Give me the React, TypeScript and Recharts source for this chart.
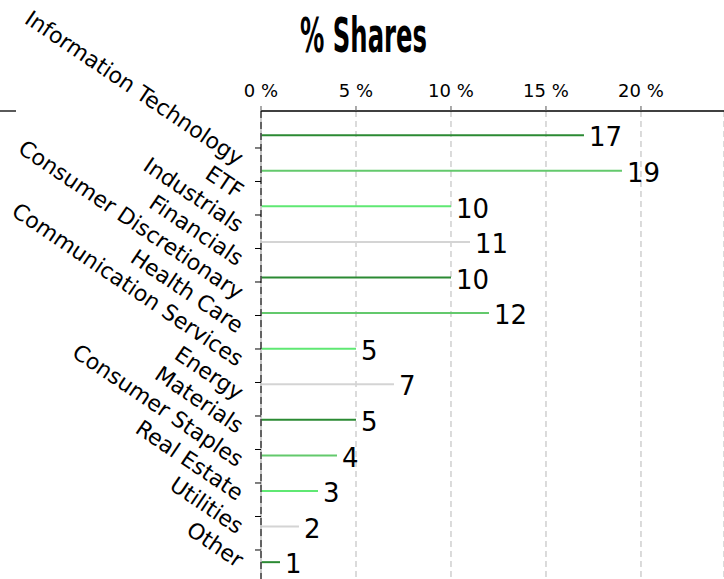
import React from "react";
import {
  ComposedChart,
  Bar,
  Line,
  Cell,
  XAxis,
  YAxis,
  CartesianGrid,
  ReferenceLine,
  LabelList,
} from "recharts";

// Sector split of the portfolio, in % of shares held.
const categories = [
  "Information Technology",
  "ETF",
  "Industrials",
  "Financials",
  "Consumer Discretionary",
  "Health Care",
  "Communication Services",
  "Energy",
  "Materials",
  "Consumer Staples",
  "Real Estate",
  "Utilities",
  "Other",
];
const shares = [17, 19, 10, 11, 10, 12, 5, 7, 5, 4, 3, 2, 1];
const palette = ["#2b8a33", "#63c96c", "#5fe873", "#d4d4d4"];
const xTicks = [0, 5, 10, 15, 20];

const FONT = "'DejaVu Sans', sans-serif";

const rows = categories.map((name, idx) => ({
  name,
  idx,
  value: shares[idx],
  color: palette[idx % palette.length],
}));

function CategoryTick({ x, y, payload }: { x?: number; y?: number; payload?: { value: number } }) {
  if (x == null || y == null || !payload) return null;
  const label = categories[payload.value] ?? "";
  // anchor the end of the rotated label a little below-left of the tick
  const ax = x - 11;
  const ay = y + 12;
  return (
    <text
      x={ax}
      y={ay}
      textAnchor="end"
      dominantBaseline="central"
      fontSize={22}
      fontFamily={FONT}
      fill="#000"
      transform={`rotate(34, ${ax}, ${ay})`}
    >
      {label}
    </text>
  );
}

export default function App() {
  return (
    <div style={{ position: "absolute", left: 0, top: 0, width: 724, height: 579, background: "#fff" }}>
      <svg width={724} height={579} style={{ position: "absolute", left: 0, top: 0 }}>
        <text
          x={300}
          y={52}
          fontSize={48}
          fontWeight="bold"
          fontFamily="'Liberation Sans Narrow', 'DejaVu Sans Condensed', sans-serif"
          textLength={127}
          lengthAdjust="spacingAndGlyphs"
          fill="#000"
        >
          % Shares
        </text>
        <line x1={0} x2={16} y1={111} y2={111} stroke="#000" strokeWidth={1.3} />
      </svg>
      <div style={{ position: "absolute", left: 0, top: 0 }}>
        <ComposedChart
          width={724}
          height={579}
          data={rows}
          layout="vertical"
          margin={{ top: 0, right: 0, bottom: 0, left: 0 }}
        >
          <CartesianGrid
            horizontal={false}
            yAxisId="bars"
            stroke="#c8c8c8"
            strokeDasharray="6 4"
            strokeWidth={1.3}
          />
          <XAxis
            type="number"
            orientation="top"
            domain={[0, 24.37]}
            ticks={xTicks}
            allowDataOverflow
            height={111}
            tickSize={5}
            tickMargin={9}
            tickFormatter={(v: number) => `${v} %`}
            tick={{ fontSize: 18, fontFamily: FONT, fill: "#000" }}
            tickLine={{ stroke: "#555" }}
            axisLine={{ stroke: "#000", strokeWidth: 1.3 }}
          />
          <YAxis
            yAxisId="bars"
            type="number"
            dataKey="idx"
            domain={[-0.6745, 12.479]}
            allowDataOverflow
            width={0}
            hide
          />
          <YAxis
            yAxisId="labels"
            type="number"
            dataKey="idx"
            domain={[-1.1045, 12.866]}
            allowDataOverflow
            ticks={categories.map((_, i) => i)}
            interval={0}
            width={261}
            tickSize={6}
            tickMargin={3}
            tick={<CategoryTick />}
            tickLine={{ stroke: "#000" }}
            axisLine={{ stroke: "#000", strokeDasharray: "7 4" }}
          />
          <ReferenceLine x={0} yAxisId="bars" stroke="#bdbdbd" strokeWidth={1.5} />
          <Bar dataKey="value" yAxisId="bars" barSize={2} isAnimationActive={false}>
            {rows.map((r) => (
              <Cell key={r.name} fill={r.color} />
            ))}
            <LabelList
              dataKey="value"
              position="right"
              offset={5}
              dy={2}
              fontSize={26}
              fontFamily={FONT}
              fill="#000"
            />
          </Bar>
          <Line
            dataKey="value"
            yAxisId="labels"
            stroke="transparent"
            dot={false}
            activeDot={false}
            legendType="none"
            isAnimationActive={false}
          />
        </ComposedChart>
      </div>
    </div>
  );
}
